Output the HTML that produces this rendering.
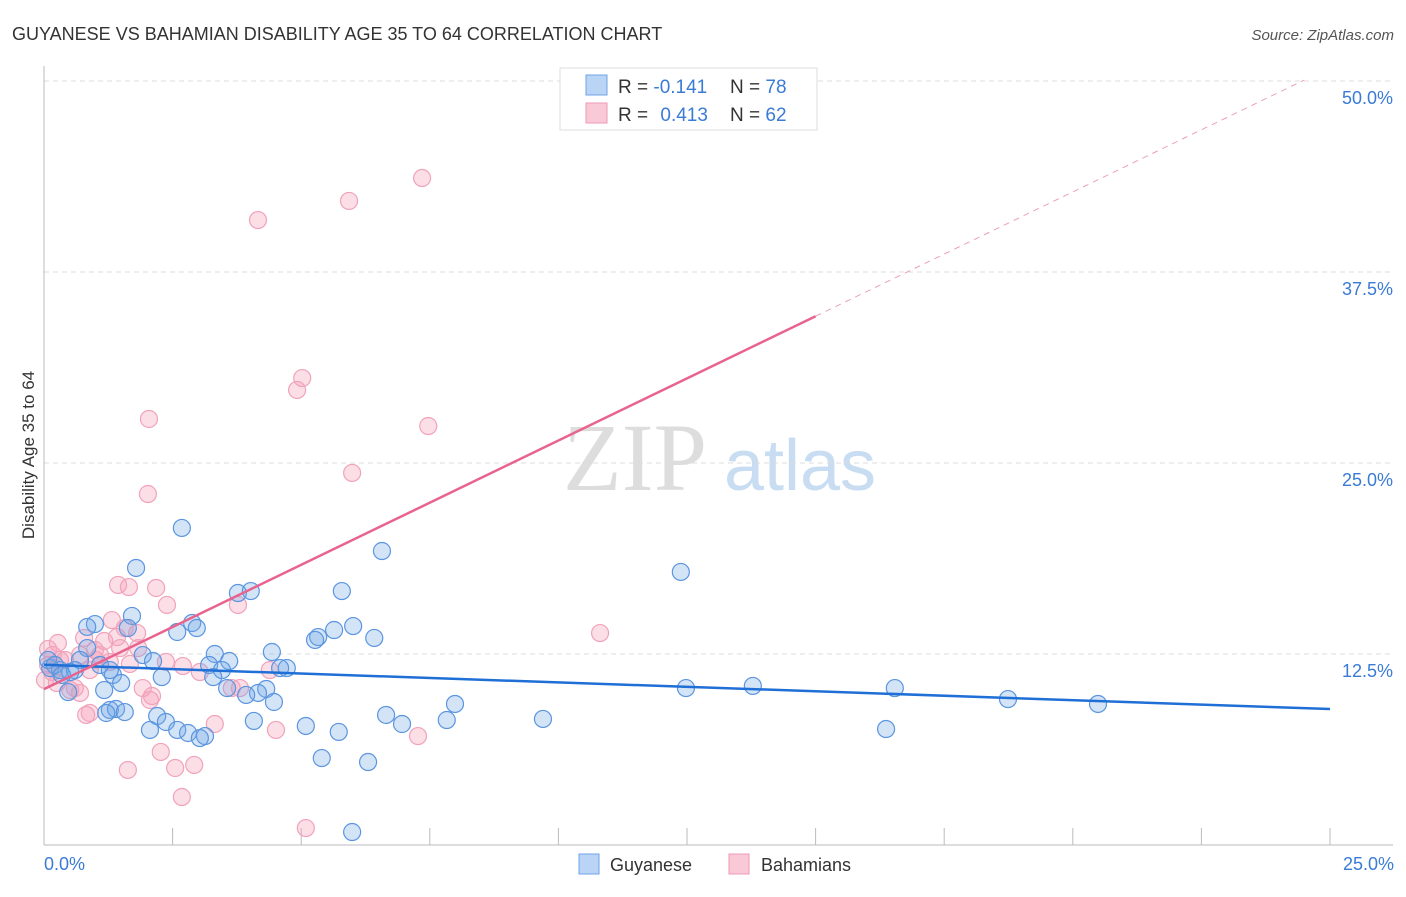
<!DOCTYPE html>
<html><head><meta charset="utf-8"><style>
body{margin:0;background:#fff;font-family:"Liberation Sans",sans-serif}
</style></head><body>
<svg width="1406" height="892" xmlns="http://www.w3.org/2000/svg" font-family="Liberation Sans, sans-serif">
<text x="12" y="40" font-size="18" fill="#333">GUYANESE VS BAHAMIAN DISABILITY AGE 35 TO 64 CORRELATION CHART</text>
<text x="1394" y="40" font-size="15" fill="#555" font-style="italic" text-anchor="end">Source: ZipAtlas.com</text>
<g>
<text x="635" y="490" font-size="96" fill="#ddd" font-family="Liberation Serif, serif" text-anchor="middle">ZIP</text>
<text x="800" y="490" font-size="72" fill="#c8dcf2" text-anchor="middle">atlas</text>
</g>
<g id="grid"></g>
<g id="axes"></g>
<g id="marks"></g>
<text transform="translate(34,455) rotate(-90)" font-size="17" fill="#333" text-anchor="middle">Disability Age 35 to 64</text>
<g>
<rect x="560" y="68" width="257" height="62" fill="#fff" stroke="#ddd"/>
<rect x="586" y="75" width="21" height="20" fill="#b9d4f5" stroke="#6fa3e6"/>
<rect x="586" y="103" width="21" height="20" fill="#f9c9d7" stroke="#ef9ab4"/>
<text x="618" y="93" font-size="19" fill="#333">R = <tspan fill="#3a7bd5">-0.141</tspan></text>
<text x="730" y="93" font-size="19" fill="#333">N = <tspan fill="#3a7bd5">78</tspan></text>
<text x="618" y="121" font-size="19" fill="#333">R = <tspan fill="#3a7bd5" dx="7">0.413</tspan></text>
<text x="730" y="121" font-size="19" fill="#333">N = <tspan fill="#3a7bd5">62</tspan></text>
</g>
<g>
<rect x="579" y="854" width="20" height="20" fill="#b9d4f5" stroke="#6fa3e6"/>
<text x="610" y="871" font-size="18" fill="#333">Guyanese</text>
<rect x="729" y="854" width="20" height="20" fill="#f9c9d7" stroke="#ef9ab4"/>
<text x="761" y="871" font-size="18" fill="#333">Bahamians</text>
</g>
</svg>
<script>
const yTicks=[12.5,25,37.5,50];
const yTickLabels=["12.5%","25.0%","37.5%","50.0%"];
const xTickLabels=["0.0%","25.0%"];
const blueX=[2.68,1.79,6.57,12.38,3.77,4.02,5.79,1.71,0.99,0.84,2.88,2.97,1.63,2.59,6.01,5.64,5.33,5.27,6.42,4.43,3.32,1.92,2.12,0.84,3.60,3.21,4.72,4.59,3.46,2.29,3.29,1.34,1.50,1.17,0.47,4.32,3.56,12.48,13.78,16.54,4.16,3.93,4.47,7.99,18.74,20.49,6.65,9.70,7.83,2.20,2.37,1.28,1.40,1.57,1.21,4.08,5.09,6.96,2.59,2.06,2.80,3.13,3.03,5.73,16.37,5.40,6.30,5.99,0.12,0.08,0.31,0.21,0.51,0.60,0.35,1.09,0.70,1.28];
const blueY=[20.75,18.13,19.24,17.87,16.49,16.62,16.62,14.99,14.46,14.27,14.53,14.20,14.20,13.94,14.33,14.07,13.61,13.42,13.55,12.63,12.50,12.43,12.04,12.89,12.04,11.78,11.58,11.58,11.45,10.99,10.99,11.13,10.60,10.14,10.01,10.21,10.27,10.27,10.41,10.27,9.95,9.82,9.36,9.23,9.55,9.23,8.51,8.25,8.18,8.44,8.05,8.84,8.90,8.70,8.64,8.12,7.79,7.92,7.53,7.53,7.33,7.13,7.00,7.40,7.59,5.69,5.43,0.85,11.58,12.11,11.45,11.78,11.32,11.45,11.13,11.78,12.11,11.45];
const pinkX=[7.35,5.93,4.16,5.02,4.92,2.04,7.47,5.99,2.02,1.44,1.65,2.18,2.39,3.77,10.81,1.81,1.42,0.78,1.17,0.27,0.08,0.17,0.31,1.09,1.01,1.67,2.37,2.70,3.03,3.65,3.81,1.92,2.10,0.70,0.60,0.82,0.89,4.39,3.32,4.51,7.27,2.27,1.63,2.55,2.92,2.68,5.09,0.08,0.16,0.41,1.28,1.48,1.83,0.89,0.51,0.25,0.02,1.57,1.32,2.06,0.99,0.70];
const pinkY=[43.65,42.15,40.90,30.56,29.78,27.88,27.42,24.35,22.97,17.02,16.88,16.82,15.71,15.71,13.87,13.87,13.61,13.55,13.35,13.22,12.83,12.43,12.11,12.43,12.11,11.85,11.98,11.71,11.32,10.27,10.27,10.27,9.75,9.95,10.27,8.51,8.64,11.45,7.92,7.53,7.13,6.09,4.91,5.04,5.24,3.14,1.11,11.78,11.32,12.11,11.98,12.89,12.89,11.45,10.14,10.60,10.80,14.20,14.72,9.49,12.76,12.43];
const blueTrend=[11.8,8.9];   // value at x=0 and x=25
const pinkTrend=[10.2,1.627]; // intercept, slope
const NS="http://www.w3.org/2000/svg";
const sx=v=>44+v*51.44, sy=v=>845-v*15.28;
function mk(parent,tag,attrs){const e=document.createElementNS(NS,tag);for(const k in attrs)e.setAttribute(k,attrs[k]);document.getElementById(parent).appendChild(e);return e;}
yTicks.forEach((t,i)=>{
 const l=mk('grid','line',{x1:44,x2:1393,y1:sy(t),y2:sy(t),stroke:'#ddd','stroke-dasharray':'5,4'});
 
 
 const tx=mk('grid','text',{x:1393,y:sy(t)+23,'font-size':18,fill:'#3a7bd5','text-anchor':'end'});
 tx.textContent=yTickLabels[i];
 
 
});
let a=mk('axes','line',{x1:44,x2:44,y1:66,y2:845,stroke:'#bbb'});


a=mk('axes','line',{x1:44,x2:1393,y1:845,y2:845,stroke:'#bbb'});


for(let i=1;i<=10;i++){const t=mk('axes','line',{x1:sx(i*2.5),x2:sx(i*2.5),y1:828,y2:845,stroke:'#bbb'});
 
 }
let xl=mk('axes','text',{x:44,y:870,'font-size':18,fill:'#3a7bd5'});xl.textContent=xTickLabels[0];


xl=mk('axes','text',{x:1394,y:870,'font-size':18,fill:'#3a7bd5','text-anchor':'end'});xl.textContent=xTickLabels[1];


pinkX.forEach((x,i)=>{const c=mk('marks','circle',{cx:sx(x),cy:sy(pinkY[i]),r:8.5,fill:'rgba(245,160,185,0.35)',stroke:'#f0a3bb','stroke-width':1.2});
 
 });
blueX.forEach((x,i)=>{const c=mk('marks','circle',{cx:sx(x),cy:sy(blueY[i]),r:8.5,fill:'rgba(110,165,230,0.3)',stroke:'#5b95e0','stroke-width':1.2});
 
 });
let t=mk('marks','line',{x1:sx(0),y1:sy(blueTrend[0]),x2:sx(25),y2:sy(blueTrend[1]),stroke:'#1f6fd6','stroke-width':2.5});


t=mk('marks','line',{x1:sx(0),y1:sy(pinkTrend[0]),x2:sx(15),y2:sy(pinkTrend[0]+pinkTrend[1]*15),stroke:'#e8648e','stroke-width':2.5});


t=mk('marks','line',{x1:sx(15),y1:sy(pinkTrend[0]+pinkTrend[1]*15),x2:sx(24.5),y2:sy(pinkTrend[0]+pinkTrend[1]*24.5),stroke:'#eba0b8','stroke-width':1,'stroke-dasharray':'6,5'});


</script>
</body></html>
